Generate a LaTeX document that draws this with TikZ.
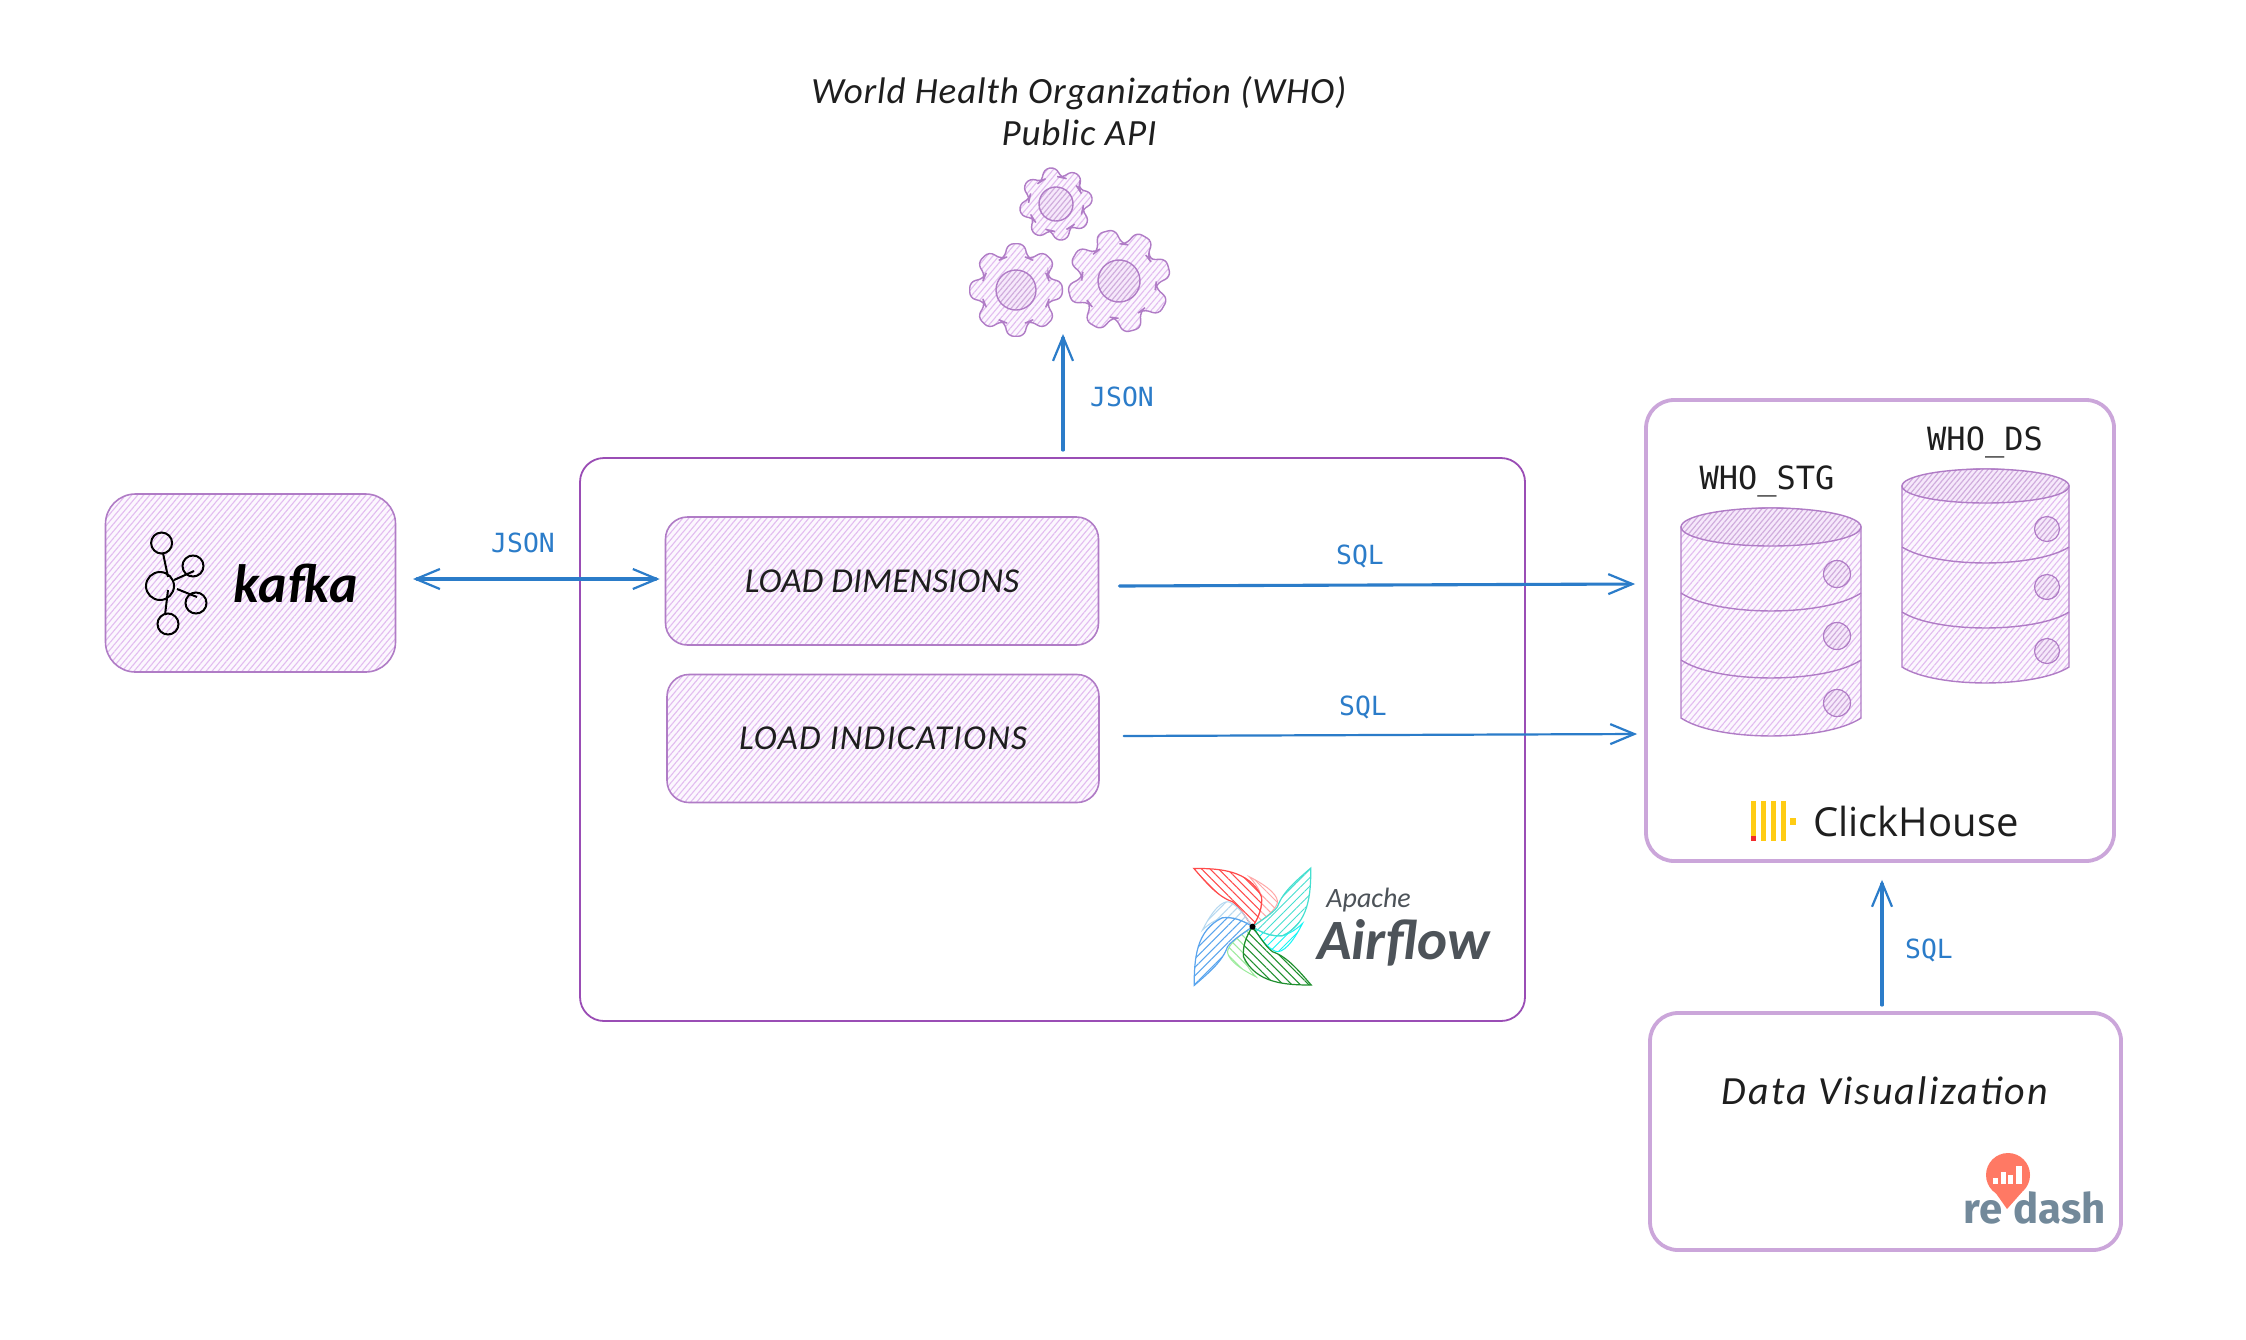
\documentclass[tikz,border=0pt]{standalone}
\usepackage{fontspec}
\setmainfont{Carlito}
\newfontfamily\handfont{Carlito}[ItalicFont=* Italic,BoldItalicFont=* Bold Italic]
\newfontfamily\monofont{DejaVu Sans Mono}
\newfontfamily\chfont{Open Sans}
\newfontfamily\rdfont{Fira Sans}[BoldFont=* Bold]
\usetikzlibrary{arrows.meta,patterns.meta}
\definecolor{hatchline}{HTML}{E2BCF0}
\definecolor{hatchbg}{HTML}{FCF7FE}
\definecolor{softedge}{HTML}{CBA6DA}
\definecolor{midedge}{HTML}{B07CC6}
\definecolor{darkedge}{HTML}{9A4DB5}
\definecolor{holebg}{HTML}{F6E8FB}
\definecolor{flowblue}{HTML}{2B7CC9}
\definecolor{inkblack}{HTML}{1E1E1E}
\definecolor{afgrey}{HTML}{4D5359}
\definecolor{chyellow}{HTML}{FFCC14}
\definecolor{chred}{HTML}{F22B2B}
\definecolor{rdsalmon}{HTML}{FF7964}
\definecolor{rdgrey}{HTML}{72899A}
\definecolor{pfred}{HTML}{FF4A4A}
\definecolor{pfredl}{HTML}{FFA8A8}
\definecolor{pfcyan}{HTML}{45DFD0}
\definecolor{pfcyanl}{HTML}{14F5F5}
\definecolor{pfgreen}{HTML}{1E8F2E}
\definecolor{pfgreenl}{HTML}{9CEB9C}
\definecolor{pfblue}{HTML}{5AA5EE}
\definecolor{pfbluel}{HTML}{B5D8F0}
\tikzset{
  x=0.5pt,y=-0.5pt,
  hatch/.style={preaction={fill=hatchbg},pattern={Lines[angle=50,distance=2.3pt,line width=0.55pt]},pattern color=hatchline},
  hatchdense/.style={preaction={fill=holebg},pattern={Lines[angle=50,distance=2pt,line width=0.6pt]},pattern color=hatchline!92!black},
  sketchbox/.style={draw=midedge,line width=0.8pt,hatch,rounded corners=11pt,inner sep=0pt,text=inkblack},
  plainbox/.style={draw=softedge,line width=1.9pt,fill=white,rounded corners=14pt,inner sep=0pt},
  hostbox/.style={draw=darkedge,line width=0.9pt,fill=white,rounded corners=12pt,inner sep=0pt},
  shape edge/.style={draw=midedge,line width=0.7pt},
  flow/.style={draw=flowblue,line width=1.55pt,line cap=round},
  fhead/.style={-{Straight Barb[length=12pt,width=10pt,line width=1.1pt]}},
  fboth/.style={{Straight Barb[length=12pt,width=10pt,line width=1.1pt]}-{Straight Barb[length=12pt,width=10pt,line width=1.1pt]}},
  flowlabel/.style={font=\monofont\fontsize{13.2}{15}\selectfont,text=flowblue,inner sep=0pt},
  hand/.style={font=\handfont\itshape\fontsize{17.5}{21}\selectfont,text=inkblack,inner sep=0pt,align=center},
  dbname/.style={font=\monofont\fontsize{16}{18}\selectfont,text=inkblack,inner sep=0pt},
  kicon/.style={draw=black,line width=1pt},
}
% cx cy Router Rroot holeR rotation
\newcommand{\gearshape}[6]{%
  \begin{scope}[shift={(#1,#2)},rotate=#6]
    \path[shape edge,hatch,rounded corners=3pt]
      (-20:#4) \foreach \g in {0,45,...,315}{
        -- ({\g-20}:#4) -- ({\g-10}:#3) -- ({\g+10}:#3) -- ({\g+20}:#4)
      } -- cycle;
    \path[shape edge,hatchdense] (0,0) circle[radius=#5];
  \end{scope}}
% cx rx ytop ry band1 band2 bottomside sag
\newcommand{\dbcyl}[8]{%
  \path[shape edge,hatch]
    ({#1-#2},#3) -- ({#1-#2},#7)
    .. controls ({#1-0.6*#2},{#7+1.33*#8}) and ({#1+0.6*#2},{#7+1.33*#8}) .. ({#1+#2},#7)
    -- ({#1+#2},#3)
    .. controls ({#1+0.6*#2},{#3-1.33*#4}) and ({#1-0.6*#2},{#3-1.33*#4}) .. cycle;
  \path[shape edge,hatchdense] (#1,#3) ellipse[x radius=#2,y radius=#4];
  \foreach \by in {#5,#6}{
    \draw[midedge,line width=0.7pt] ({#1-#2},\by)
      .. controls ({#1-0.6*#2},{\by+1.33*#8}) and ({#1+0.6*#2},{\by+1.33*#8}) .. ({#1+#2},\by);
  }}
% rotation, dark colour, light colour, hatch angle
\newcommand{\petal}[4]{%
  \begin{scope}[shift={(1252.5,926.7)},rotate=#1]
    \path[draw=#3,line width=0.5pt,pattern={Lines[angle=#4,distance=3pt,line width=0.5pt]},pattern color=#3]
      (-3.3,-50) .. controls (16.7,-40) and (26.7,-30) .. (24.7,-23.3)
      .. controls (21.7,-15) and (10,-6.7) .. (0,0)
      .. controls (6.7,-10) and (10,-20) .. (9,-30)
      .. controls (6.7,-38) and (1.7,-45) .. cycle;
    \path[draw=#2,line width=0.6pt,pattern={Lines[angle=#4,distance=3pt,line width=0.5pt]},pattern color=#2]
      (-58.7,-58.3) .. controls (-33,-58.3) and (-3.3,-56.7) .. (9,-30)
      .. controls (10,-20) and (6.7,-10) .. (0,0)
      .. controls (-6,-8) and (-13,-20) .. (-20,-25)
      .. controls (-35,-30) and (-47,-45) .. cycle;
  \end{scope}}
\begin{document}
\begin{tikzpicture}
\useasboundingbox (0,0) rectangle (2246,1339);
\fill[white] (0,0) rectangle (2246,1339);

% containers
\node[hostbox,minimum width=472.5pt,minimum height=281.5pt] (airflowbox) at (1052.5,739.5) {};
\node[plainbox,minimum width=234pt,minimum height=230.5pt] (chbox) at (1880,630.5) {};
\node[plainbox,minimum width=235.5pt,minimum height=118.5pt] (vizbox) at (1885.5,1131.5) {};

% kafka
\node[sketchbox,minimum width=145pt,minimum height=89pt,rounded corners=15pt] (kafka) at (250.5,583) {};
\node[font=\handfont\bfseries\itshape\fontsize{27}{29}\selectfont,text=black,inner sep=0pt] (kafkatext) at (296,583) {kafka};
\draw[kicon] (161.6,543) circle[radius=10.5];
\draw[kicon] (193,566) circle[radius=10.5];
\draw[kicon] (160,586) circle[radius=14];
\draw[kicon] (196,603) circle[radius=10.5];
\draw[kicon] (168,624) circle[radius=10.5];
\draw[kicon] (163,553) -- (168,577);
\draw[kicon] (174,580) -- (194,571);
\draw[kicon] (177,589) -- (197,597);
\draw[kicon] (168,590) -- (165,615);

% load tasks
\node[sketchbox,minimum width=216.5pt,minimum height=64pt,hand] (dims) at (882,581) {\addfontfeature{LetterSpace=0.6}LOAD DIMENSIONS};
\node[sketchbox,minimum width=216pt,minimum height=64pt,hand] (inds) at (883,738.5) {\addfontfeature{LetterSpace=3.6}LOAD INDICATIONS};

% who
\node[hand,font=\handfont\itshape\fontsize{18.5}{21}\selectfont\addfontfeature{LetterSpace=2.4}] (who) at (1079,111) {World Health Organization (WHO)\\Public API};
\gearshape{1056}{204}{37}{27}{17}{10}
\gearshape{1016}{290}{47}{34}{20}{0}
\gearshape{1119}{281}{52}{37}{21}{15}
\coordinate (gears) at (1063,334);

% databases
\node[dbname] (stgname) at (1767,481) {WHO\_STG};
\node[dbname] (dsname) at (1985,442.5) {WHO\_DS};
\dbcyl{1771}{90}{527}{19}{593}{660}{718}{18}
\dbcyl{1985.5}{83.5}{486}{17}{547}{612}{667}{16}
\foreach \cy in {574,636,703}{\draw[midedge,line width=0.6pt,hatchdense] (1837,\cy) circle[radius=13.5];}
\foreach \cy in {529,587,651}{\draw[midedge,line width=0.6pt,hatchdense] (2047,\cy) circle[radius=12.5];}

% clickhouse logo
\fill[chyellow] (1751,801) rectangle (1756,841);
\fill[chyellow] (1761,801) rectangle (1766,841);
\fill[chyellow] (1771,801) rectangle (1776,841);
\fill[chyellow] (1781,801) rectangle (1786,841);
\fill[chyellow] (1790,818) rectangle (1796,825);
\fill[chred] (1751,836) rectangle (1756,841);
\node[font=\chfont\fontsize{20}{24}\selectfont,text=inkblack,inner sep=0pt,anchor=base west] (chtext) at (1813,836) {ClickHouse};

% data visualization + redash
\node[hand,font=\handfont\itshape\fontsize{20}{24}\selectfont\addfontfeature{LetterSpace=5.5}] (viztext) at (1885,1091) {Data Visualization};
\fill[rdsalmon] (2008,1175) circle[radius=22];
\fill[rdsalmon] (1995,1192) -- (2007,1209) -- (2022,1192) -- cycle;
\fill[white] (1993,1178) rectangle (1998,1184);
\fill[white] (2001,1172) rectangle (2006,1184);
\fill[white] (2008,1175) rectangle (2013,1184);
\fill[white] (2016,1166) rectangle (2022,1184);
\node[font=\rdfont\bfseries\fontsize{21}{24}\selectfont,text=rdgrey,inner sep=0pt,anchor=base west] (rdre) at (1963,1223) {re};
\node[font=\rdfont\bfseries\fontsize{21}{24}\selectfont,text=rdgrey,inner sep=0pt,anchor=base west] (rddash) at (2013,1223) {dash};

% airflow logo
\petal{0}{pfred}{pfredl}{135}
\petal{270}{pfcyan}{pfcyanl}{45}
\petal{180}{pfgreen}{pfgreenl}{135}
\petal{90}{pfblue}{pfbluel}{45}
\fill[black] (1252.5,926.7) circle[radius=3];
\node[font=\handfont\itshape\fontsize{14}{17}\selectfont,text=afgrey,inner sep=0pt,anchor=base west] (aftext1) at (1326,907) {Apache};
\node[font=\handfont\bfseries\itshape\fontsize{28.5}{32}\selectfont,text=afgrey,inner sep=0pt,anchor=base west] (aftext2) at (1317,959) {Airflow};

% connectors
\draw[flow,fboth] ([shift={(17,-4)}]kafka.east) -- ([shift={(-5,-2)}]dims.west);
\draw[flow,fhead] ([shift={(10.5,-7)}]airflowbox.north) -- (gears);
\draw[flow,fhead] ([shift={(20,5)}]dims.east) -- ([shift={(-9,-46.5)}]chbox.west);
\draw[flow,line width=1.1pt,fhead] ([shift={(24,-2.5)}]inds.east) -- ([shift={(-7,103.5)}]chbox.west);
\draw[flow,fhead] ([shift={(-3.5,-6)}]vizbox.north) -- ([shift={(2,17)}]chbox.south);

% labels
\node[flowlabel] (l1) at (1122,397) {JSON};
\node[flowlabel] (l2) at (523,543) {JSON};
\node[flowlabel] (l3) at (1360,556) {SQL};
\node[flowlabel] (l4) at (1363,707.5) {SQL};
\node[flowlabel] (l5) at (1929,950) {SQL};
\end{tikzpicture}
\end{document}
